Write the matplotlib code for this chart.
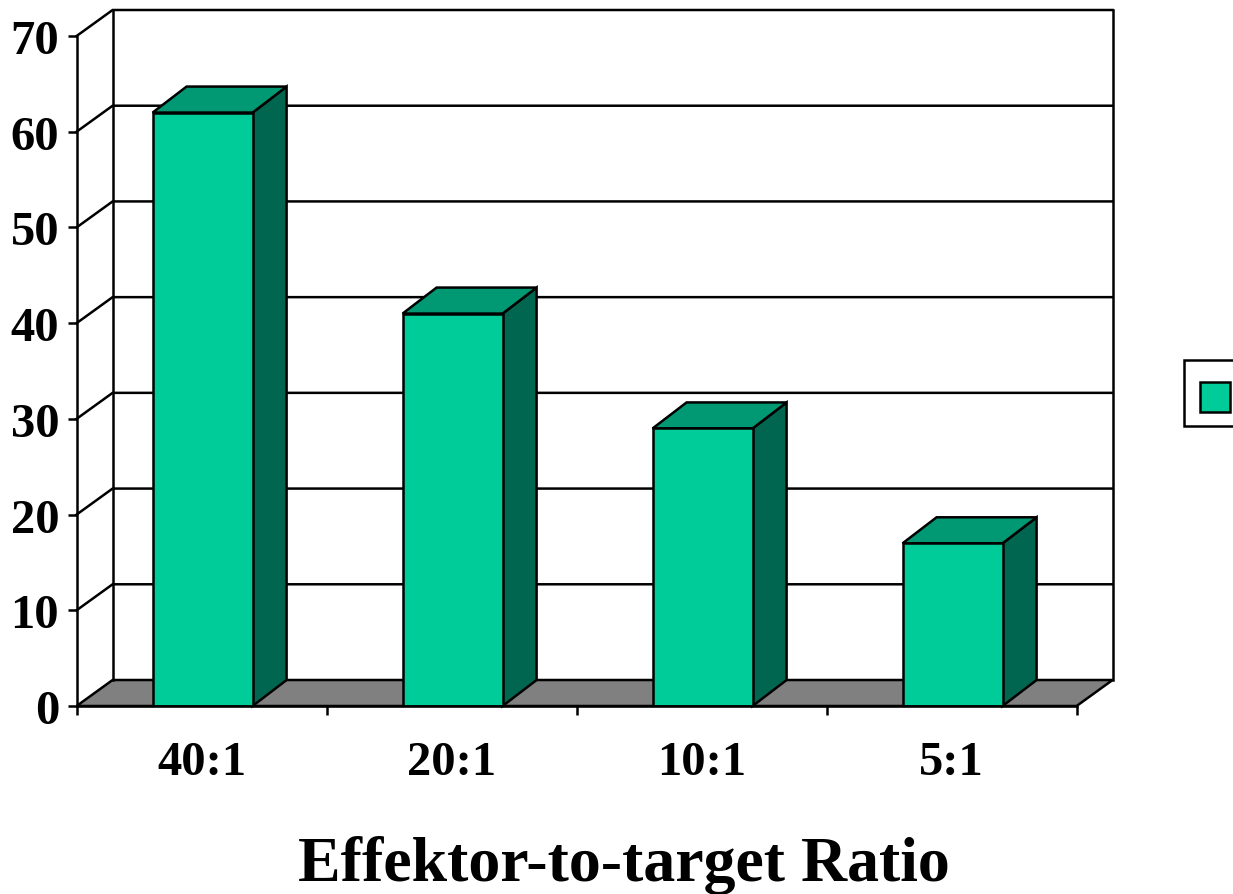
import matplotlib
matplotlib.use('Agg')
import matplotlib.pyplot as plt
from matplotlib.patches import Polygon, Rectangle

categories = ['40:1', '20:1', '10:1', '5:1']
values = [62, 41, 29, 17]
y_ticks = [0, 10, 20, 30, 40, 50, 60, 70]

W, H = 1233, 895
FRONT = '#00CC99'
TOP = '#009973'
SIDE = '#006650'
FLOOR = '#808080'
LW = 1.8

plt.rcParams['font.family'] = ['Liberation Serif', 'DejaVu Serif']
plt.rcParams['font.weight'] = 'bold'

fig = plt.figure(figsize=(W / 100, H / 100), dpi=100)
ax = fig.add_axes([76.6 / W, (H - 707) / H, 1000 / W, 670 / H])
ax.set_xlim(0, len(categories))
ax.set_ylim(0, 70)

# depth of the fake 3D box, in data units
dx = 36 / 250
dy = 26 / (670 / 70)
bar_dx = 34 / 250
bar_w = 0.4


def poly(pts, color, z):
    ax.add_patch(Polygon(pts, closed=True, facecolor=color, edgecolor='black',
                         linewidth=LW, joinstyle='miter', clip_on=False, zorder=z))


n = len(categories)

# floor
poly([(0, 0), (n, 0), (n + dx, dy), (dx, dy)], FLOOR, 1)

# back wall and gridlines
for v in y_ticks[1:]:
    ax.plot([0, dx, n + dx], [v, v + dy, v + dy], color='black', lw=LW,
            clip_on=False, zorder=1.5, solid_joinstyle='miter')
ax.plot([dx, dx], [dy, 70 + dy], color='black', lw=LW, clip_on=False, zorder=1.5)
ax.plot([n + dx, n + dx], [dy, 70 + dy], color='black', lw=LW, clip_on=False, zorder=1.5)

# bars
for i, v in enumerate(values):
    left = i + 0.304
    right = left + bar_w
    poly([(right, 0), (right + bar_dx, dy), (right + bar_dx, v + dy), (right, v)], SIDE, 3)
    poly([(left, v), (right, v), (right + bar_dx, v + dy), (left + bar_dx, v + dy)], TOP, 3)
    ax.bar(left + bar_w / 2, v, bar_w, color=FRONT, edgecolor='black', linewidth=LW, zorder=4)

# axes
for s in ['top', 'right']:
    ax.spines[s].set_visible(False)
for s in ['left', 'bottom']:
    ax.spines[s].set_linewidth(LW)
    ax.spines[s].set_zorder(5)
ax.patch.set_visible(False)

ax.set_yticks(y_ticks)
ax.set_xticks(range(n + 1))
ax.set_xticklabels([])
ax.set_xticks([i + 0.5 for i in range(n)], minor=True)
ax.set_xticklabels(categories, minor=True)
ax.tick_params(axis='y', length=6.5, width=LW, labelsize=35, pad=6)
ax.tick_params(axis='x', which='major', length=6.5, width=LW)
ax.tick_params(axis='x', which='minor', length=0, labelsize=35, pad=24.5)

# axis title
fig.text(624 / W, (H - 881.5) / H, 'Effektor-to-target Ratio', fontsize=46,
         fontweight='bold', ha='center', va='baseline')

# legend box runs off the right edge of the picture
fig.add_artist(Rectangle((1184 / W, (H - 427) / H), 60 / W, 66 / H, transform=fig.transFigure,
                         facecolor='white', edgecolor='black', linewidth=LW))
fig.add_artist(Rectangle((1200 / W, (H - 413) / H), 30 / W, 30 / H, transform=fig.transFigure,
                         facecolor=FRONT, edgecolor='black', linewidth=LW))

fig.savefig('out.png', dpi=100)
